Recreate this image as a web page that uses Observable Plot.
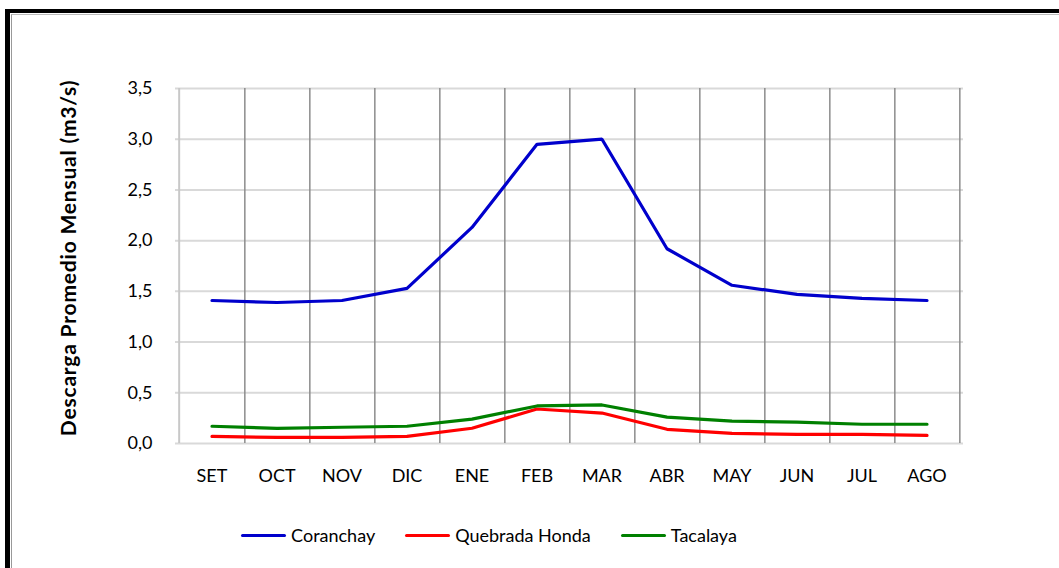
<!DOCTYPE html>
<html>
<head>
<meta charset="utf-8">
<script src="https://cdn.jsdelivr.net/npm/d3@7"></script>
<script src="https://cdn.jsdelivr.net/npm/@observablehq/plot@0.6"></script>
<style>
  html, body { margin: 0; padding: 0; background: #fff; width: 1059px; height: 568px; overflow: hidden; }
  #frame { position: absolute; left: 5px; top: 9px; width: 1200px; height: 700px;
           border-left: 5px solid #000; border-top: 4px solid #000; }
  #frame-inner { position: absolute; left: 1px; top: 1px; right: 0; bottom: 0; border-left: 1px solid #999; border-top: 1px solid #bbb; }
  #chart { position: absolute; left: 0; top: 0; }
  #chart svg { font-family: Lato, "Open Sans", sans-serif; overflow: visible; }
  #chart svg g[aria-label="text"] text { letter-spacing: 0.8px; }
  #legend { position: absolute; left: 0; top: 524px; width: 978px; display: flex; justify-content: center;
            font-family: Lato, "Open Sans", sans-serif; font-size: 18px; color: #000; }
  .item { display: flex; align-items: center; margin: 0 15px; }
  .swatch { width: 45px; height: 3px; border-radius: 2px; margin-right: 5px; }
</style>
</head>
<body>
<div id="frame"><div id="frame-inner"></div></div>
<div id="chart"></div>
<div id="legend"></div>
<script>
const months = ["SET","OCT","NOV","DIC","ENE","FEB","MAR","ABR","MAY","JUN","JUL","AGO"];
const seriesNames = ["Coranchay","Quebrada Honda","Tacalaya"];
const seriesColors = ["#0000cc","#ff0000","#008000"];
const coranchay     = [1.41,1.39,1.41,1.53,2.13,2.95,3.00,1.92,1.56,1.47,1.43,1.41];
const quebradaHonda = [0.07,0.06,0.06,0.07,0.15,0.34,0.30,0.14,0.10,0.09,0.09,0.08];
const tacalaya      = [0.17,0.15,0.16,0.17,0.24,0.37,0.38,0.26,0.22,0.21,0.19,0.19];
const yTicks = [0,0.5,1,1.5,2,2.5,3,3.5];
const yLabel = "Descarga Promedio Mensual (m3/s)";

const seriesValues = [coranchay, quebradaHonda, tacalaya];
const data = seriesNames.flatMap((s, k) => months.map((m, i) => ({series: s, month: m, value: seriesValues[k][i]})));

const W = 1059, H = 500, ML = 175, MR = 96, MT = 88, MB = 57;
const bw = (W - ML - MR) / months.length;

const chart = Plot.plot({
  width: W, height: H,
  marginLeft: ML, marginRight: MR, marginTop: MT, marginBottom: MB,
  style: {fontSize: "18px", background: "transparent", color: "#000"},
  x: {type: "band", domain: months, paddingInner: 0, paddingOuter: 0},
  y: {domain: [0, 3.5]},
  color: {domain: seriesNames, range: seriesColors},
  marks: [
    Plot.ruleY(yTicks, {stroke: "#d9d9d9", strokeWidth: 2}),
    Plot.ruleX(months, {x: d => d, dx: bw / 2, stroke: "#8c8c8c", strokeWidth: 1.5}),
    Plot.ruleX([months[0]], {x: d => d, dx: -bw / 2, stroke: "#c8c8c8", strokeWidth: 2}),
    Plot.line(data, {x: "month", y: "value", z: "series", stroke: "series", strokeWidth: 3.2, strokeLinejoin: "miter"}),
    Plot.axisX({tickSize: 0, tickPadding: 26, fontSize: 18, label: null}),
    Plot.axisY({ticks: yTicks, tickSize: 0, tickPadding: 23, fontSize: 18,
      tickFormat: d => d.toFixed(1).replace(".", ","), label: null}),
    Plot.text([yLabel], {text: d => d, frameAnchor: "left", rotate: -90, dx: -106, dy: -8,
      fontWeight: "bold", fontSize: 21, textAnchor: "middle", lineAnchor: "middle", fill: "#000"})
  ]
});
document.getElementById("chart").appendChild(chart);

const legend = document.getElementById("legend");
seriesNames.forEach((s, k) => {
  const it = document.createElement("div");
  it.className = "item";
  const sw = document.createElement("div");
  sw.className = "swatch";
  sw.style.background = seriesColors[k];
  const t = document.createElement("span");
  t.textContent = s;
  it.appendChild(sw); it.appendChild(t);
  legend.appendChild(it);
});
</script>
</body>
</html>
